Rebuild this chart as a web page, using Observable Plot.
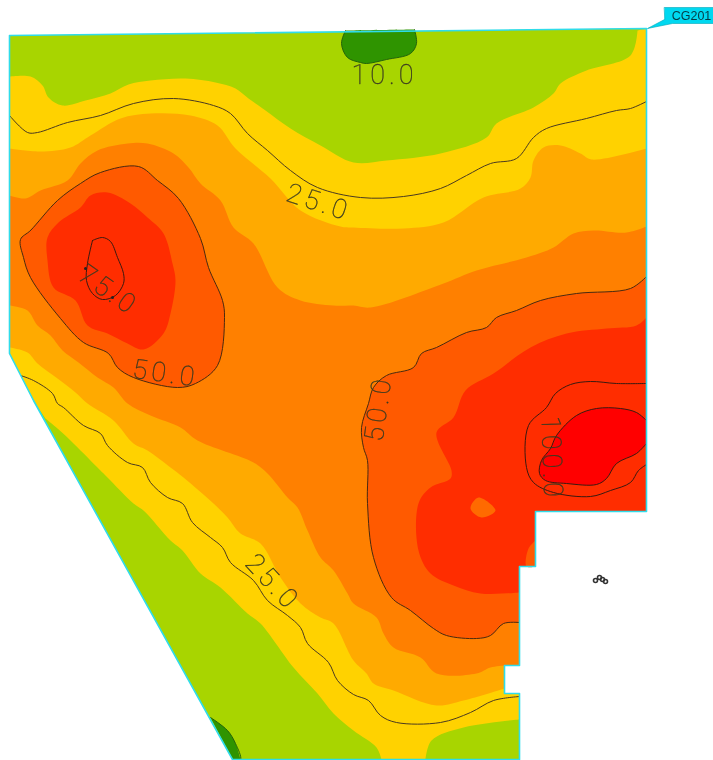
<!DOCTYPE html>
<html><head><meta charset="utf-8">
<style>html,body{margin:0;padding:0;background:#fff}svg{display:block;filter:blur(0.45px)}
.contour-label text{letter-spacing:4px}</style>
<script src="https://cdn.jsdelivr.net/npm/d3@7"></script>
<script src="https://cdn.jsdelivr.net/npm/@observablehq/plot@0.6"></script>
</head><body><div id="chart"></div>
<script>
// Site outline (map units)
const outline = [[9,35],[646,28],[646,511],[535,511],[535,566],[519,566],[519,665],[504,665],[504,693],[519,693],[519,759],[232,759],[33,400],[9,353]];
const stepsToNotch = [[646,511],[535,511],[535,566],[519,566],[519,665],[504,665]];

const yellowBand = [[9,76],[30,76],[42,85],[48,97],[62,105],[85,100],[110,93],[128,84],[150,80],[185,78],[215,82],[235,88],[248,98],[265,110],[290,128],[320,145],[353,162],[386,160],[440,153],[486,137],[496,123],[533,107],[553,93],[560,83],[586,70],[630,55],[637,30],[646,28],...stepsToNotch,[504,693],[519,693],[519,719],[463,727],[431,740],[425,759],[381,759],[376,747],[353,730],[333,713],[317,693],[293,667],[260,623],[247,613],[220,587],[200,573],[182,550],[170,540],[143,510],[133,503],[107,477],[97,467],[70,440],[57,428],[45,418],[33,400],[9,353]];

const amberBand = [[9,148],[40,151],[70,147],[90,135],[120,118],[150,113],[190,115],[217,125],[235,148],[270,178],[300,210],[340,226],[353,227],[403,228],[443,222],[483,197],[520,188],[530,177],[533,160],[543,147],[560,145],[580,153],[591,159],[646,148],...stepsToNotch,[504,688],[463,700],[436,705],[393,690],[373,683],[366,673],[353,660],[333,623],[320,617],[300,603],[280,577],[260,543],[240,533],[227,517],[213,503],[183,477],[170,467],[147,450],[133,443],[113,420],[87,403],[75,392],[57,378],[37,363],[27,352],[9,347]];

const orangeBand = [[9,195],[25,198],[40,190],[67,180],[80,163],[97,150],[127,143],[147,143],[173,153],[188,167],[200,183],[220,200],[233,227],[253,243],[277,287],[300,300],[333,305],[353,305],[370,307],[443,283],[476,270],[526,257],[553,247],[573,233],[593,230],[626,232],[646,226],...stepsToNotch,[490,667],[476,673],[436,673],[420,657],[393,647],[383,633],[376,617],[353,603],[347,593],[333,570],[320,557],[307,530],[297,507],[287,497],[267,473],[253,462],[197,440],[180,427],[150,415],[127,403],[113,387],[97,377],[78,362],[62,350],[50,335],[37,325],[27,310],[9,305]];

const deepLeft = [[20,239],[30,230],[57,200],[80,183],[100,172],[138,166],[157,180],[178,198],[200,238],[208,267],[222,300],[224,317],[217,365],[195,383],[177,387],[133,377],[117,367],[108,353],[83,342],[60,318],[30,277],[23,257]];
const deepRight = [[646,276],[630,288],[576,293],[540,300],[516,310],[496,317],[486,327],[466,332],[436,347],[421,353],[413,367],[386,375],[373,387],[368,403],[361,427],[363,447],[367,460],[367,503],[373,557],[391,597],[410,610],[433,628],[446,635],[476,638],[490,635],[503,623],[519,622],[519,566],[535,566],[535,511],[646,511]];

const scarletLeft = [[47,237],[58,222],[80,207],[90,195],[107,192],[130,203],[147,217],[163,233],[172,263],[175,280],[170,313],[163,333],[143,349],[127,343],[107,333],[87,325],[75,300],[53,287],[47,260]];
const scarletRight = [[646,317],[636,325],[606,328],[566,333],[530,347],[493,373],[465,390],[453,417],[436,432],[451,470],[450,478],[430,487],[418,503],[418,550],[430,573],[453,585],[480,593],[519,592],[519,566],[535,566],[535,511],[646,511]];
const deepIsland = [[478,497],[495,510],[481,517],[470,508]];
const deepSliver = [[535,540],[528,548],[526,566],[535,566]];

const redCore = [[646,420],[636,412],[620,408],[596,408],[576,415],[556,435],[550,448],[541,460],[539,473],[545,480],[566,483],[596,484],[606,478],[616,463],[636,453],[646,443]];

const greenTop = [[345,30],[341,43],[347,57],[360,62],[366,63],[386,59],[410,53],[416,43],[414,29]];
const greenBottom = [[210,717],[227,730],[235,743],[240,759],[232,759]];

// Contour lines
const contour25Top = [[9,115],[27,132],[37,132],[67,122],[100,115],[133,103],[173,98],[213,105],[230,113],[247,133],[267,150],[290,170],[317,187],[360,197],[403,196],[440,188],[466,175],[490,163],[516,158],[533,137],[546,128],[586,118],[616,110],[630,108],[646,101]];
const contour25Low = [[20,375],[33,380],[52,393],[57,403],[63,407],[83,425],[100,433],[107,445],[127,462],[142,467],[150,482],[167,497],[182,503],[192,522],[210,537],[222,547],[230,562],[253,580],[267,600],[287,615],[300,627],[307,643],[328,662],[337,680],[353,694],[368,700],[380,715],[396,722],[440,722],[470,712],[493,700],[519,696]];
const contour50Right = deepRight.slice(0,27);
const contour75Left = [[92,240],[102,237],[110,241],[117,257],[123,273],[123,283],[115,295],[102,299],[92,293],[86,280],[87,263],[92,240]];
const contour75Right = [[646,383],[616,383],[590,381],[570,384],[555,393],[546,407],[528,425],[526,467],[533,482],[553,492],[590,496],[610,490],[630,482],[638,470],[646,464]];

// Contour labels
const labels = ["10.0","25.0","75.0","50.0","50.0","25.0","100.0"];
const labelX = [384,318,108,165,378,272,551];
const labelY = [75,202,290,373,408,582,458];
const labelAngle = [0,18,35,8,-82,47,88];

const tagText = ["CG201"];
const tagShape = [[664,7],[713,7],[713,23],[672,23],[647,28],[664,19]];
const wellsX = [595,599,602,605];
const wellsY = [580,577,579,581];
const knotsX = [85,112];
const knotsY = [268,297];

const X = d => d[0], Y = d => d[1];
// A point lying on the site outline is a corner: repeating it keeps the smoothed curve straight along the edge.
const onEdge = ([x,y]) => [9,646,535,519,504].includes(x) || y >= 759 || y <= 31 || Math.abs(33 + (y-400)*0.553 - x) < 3;
const sharp = pts => pts.flatMap(p => onEdge(p) ? [p,p] : [p]);
const fillShape = (pts, color) => Plot.line(pts, {x:X, y:Y, fill:color, stroke:"none", curve:"linear-closed"});
const fillSmooth = (pts, color) => Plot.line(sharp(pts), {x:X, y:Y, fill:color, stroke:"none", curve:"catmull-rom-closed"});
const contour = (pts, color="#4a3a20") => Plot.line(pts, {x:X, y:Y, stroke:color, strokeWidth:1, curve:"catmull-rom"});

const chart = Plot.plot({
  width:713, height:760, margin:0,
  style:{background:"#fff"},
  x:{domain:[0,713], range:[0,713], axis:null},
  y:{domain:[0,760], range:[0,760], axis:null},
  marks:[
    fillShape(outline,"#a8d500"),
    fillSmooth(greenTop,"#2f9400"),
    fillSmooth(greenBottom,"#2f9400"),
    fillSmooth(yellowBand,"#ffd200"),
    fillSmooth(amberBand,"#ffaa00"),
    fillSmooth(orangeBand,"#ff8000"),
    fillSmooth(deepLeft,"#ff5a00"),
    fillSmooth(deepRight,"#ff5a00"),
    fillSmooth(scarletLeft,"#ff2d00"),
    fillSmooth(scarletRight,"#ff2d00"),
    fillSmooth(deepIsland,"#ff6a00"),
    fillSmooth(deepSliver,"#ff5a00"),
    fillSmooth(redCore,"#ff0000"),
    contour(greenTop,"#24640a"),
    contour(greenBottom,"#24640a"),
    contour(contour25Top),
    contour(contour25Low),
    Plot.line(deepLeft,{x:X,y:Y,stroke:"#4a2a10",strokeWidth:1,curve:"catmull-rom-closed"}),
    contour(contour50Right,"#4a2a10"),
    contour(contour75Left,"#3a1a10"),
    contour(contour75Right,"#3a1a10"),
    contour(redCore,"#3a1a10"),
    Plot.text(labels,{x:(d,i)=>labelX[i],y:(d,i)=>labelY[i],rotate:(d,i)=>labelAngle[i],text:d=>d,className:"contour-label",
      fontFamily:"Roboto",fontWeight:100,fontSize:27,fill:"#3a3a20",stroke:"#3a3a20",strokeWidth:0.3}),
    Plot.dot(knotsX,{x:d=>d,y:(d,i)=>knotsY[i],r:1.5,fill:"#222"}),
    Plot.line(outline,{x:X,y:Y,stroke:"#2fdcea",strokeWidth:1.6,curve:"linear-closed"}),
    Plot.dot(wellsX,{x:d=>d,y:(d,i)=>wellsY[i],r:2,stroke:"#333",strokeWidth:1.6,fill:"none"}),
    Plot.line(tagShape,{x:X,y:Y,fill:"#00d8f0",stroke:"#00a8b8",strokeWidth:0.6,curve:"linear-closed"}),
    Plot.text(tagText,{x:[691],y:[15.5],text:d=>d,fontFamily:"Liberation Sans",fontSize:12.5,fontWeight:500,fill:"#063a44"})
  ]
});
document.getElementById("chart").append(chart);
</script></body></html>
